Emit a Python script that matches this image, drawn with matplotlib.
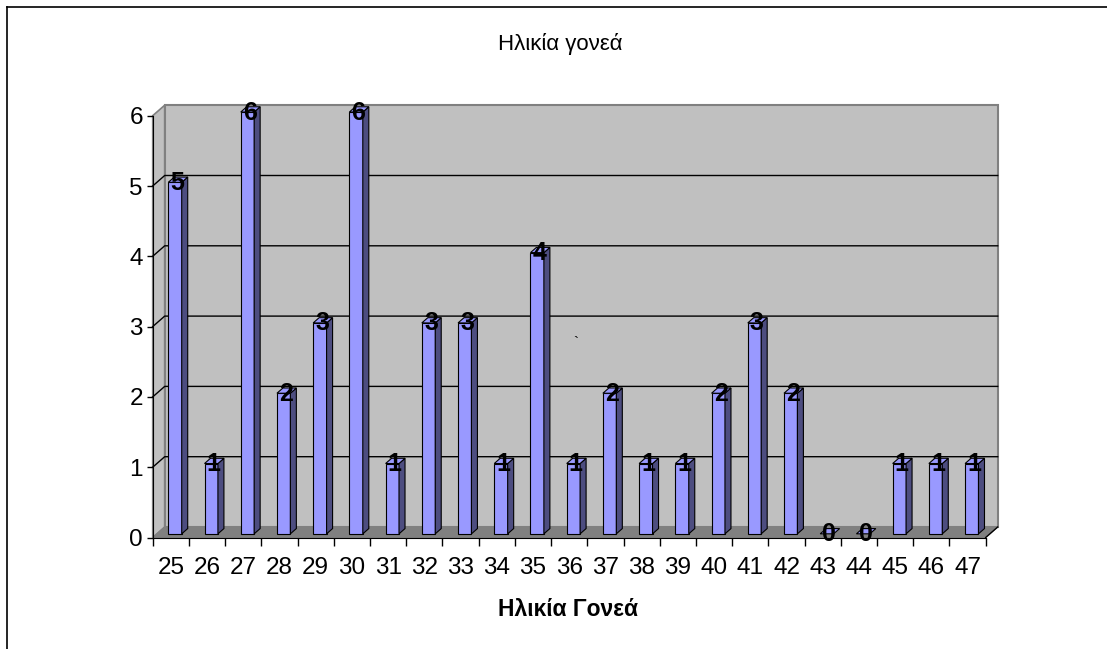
import numpy as np
import matplotlib
matplotlib.use("Agg")
from matplotlib import pyplot as plt
from matplotlib.patches import Polygon
from matplotlib.lines import Line2D

plt.rcParams['font.family'] = ['Liberation Sans', 'DejaVu Sans']

ages   = [25, 26, 27, 28, 29, 30, 31, 32, 33, 34, 35, 36, 37, 38, 39, 40, 41, 42, 43, 44, 45, 46, 47]
counts = [5, 1, 6, 2, 3, 6, 1, 3, 3, 1, 4, 1, 2, 1, 1, 2, 3, 2, 0, 0, 1, 1, 1]
title  = "Ηλικία γονεά"
xlabel = "Ηλικία Γονεά"
yticks = [0, 1, 2, 3, 4, 5, 6]

W, H = 1107, 649
fig = plt.figure(figsize=(W / 100, H / 100), dpi=100)

# axes placed in pixels: x 152.7..985.7, y(0)=537.5, y(6)=115.7 from top
x0, x1 = 152.7, 985.7
ytop, ybot = 115.7, 537.5
ax = fig.add_axes([x0 / W, (H - ybot) / H, (x1 - x0) / W, (ybot - ytop) / H])
n = len(ages)
ymax = yticks[-1]
ax.set_xlim(0, n)
ax.set_ylim(0, ymax)
ax.patch.set_visible(False)

# 3d depth offsets in data units
dx = 12.0 / ((x1 - x0) / n)
dy = 10.5 / ((ybot - ytop) / ymax)

wall_col = "#C0C0C0"
edge_col = "#808080"
# side wall
ax.add_patch(Polygon([(0, 0), (dx, dy), (dx, ymax + dy), (0, ymax)], closed=True,
                     facecolor=wall_col, edgecolor=edge_col, lw=1.2, clip_on=False, zorder=0))
# back wall
ax.add_patch(Polygon([(dx, dy), (n + dx, dy), (n + dx, ymax + dy), (dx, ymax + dy)], closed=True,
                     facecolor=wall_col, edgecolor=edge_col, lw=1.5, clip_on=False, zorder=0))
# floor
ax.add_patch(Polygon([(0, 0), (n, 0), (n + dx, dy), (dx, dy)], closed=True,
                     facecolor="#808080", edgecolor="#808080", lw=0.8, clip_on=False, zorder=1))
# floor front right edge
ax.plot([n, n + dx], [0, dy], color="black", lw=1, clip_on=False, zorder=1)

# gridlines
for v in yticks[1:-1]:
    ax.plot([0, dx, n + dx], [v, v + dy, v + dy], color="black", lw=1, clip_on=False, zorder=1)

# bars
f = 0.35
bw = 0.37
xs = np.arange(n) + 0.5
for xc, v in zip(xs, counts):
    bx0 = xc - bw / 2 + f * dx
    bx1 = xc + bw / 2 + f * dx
    by0 = f * dy
    ddx, ddy = 0.5 * dx, 0.5 * dy
    if v > 0:
        ax.add_patch(Polygon([(bx0, by0), (bx1, by0), (bx1, by0 + v), (bx0, by0 + v)], closed=True,
                             facecolor="#9999FF", edgecolor="black", lw=0.8, clip_on=False, zorder=3))
        ax.add_patch(Polygon([(bx1, by0), (bx1 + ddx, by0 + ddy), (bx1 + ddx, by0 + v + ddy), (bx1, by0 + v)],
                             closed=True, facecolor="#4D4D80", edgecolor="black", lw=0.8, clip_on=False, zorder=3))
    ax.add_patch(Polygon([(bx0, by0 + v), (bx1, by0 + v), (bx1 + ddx, by0 + v + ddy), (bx0 + ddx, by0 + v + ddy)],
                         closed=True, facecolor="#9999FF", edgecolor="black", lw=0.8, clip_on=False, zorder=3))
    ax.text(xc + (f + 0.2) * dx, v + (f - 0.05) * dy, str(v), ha="center", va="center",
            fontsize=18, fontweight="bold", zorder=5, clip_on=False)

# axes lines and ticks
for s in ["top", "right"]:
    ax.spines[s].set_visible(False)
ax.spines["left"].set_bounds(0, ymax)
ax.spines["left"].set_zorder(4)
ax.spines["bottom"].set_zorder(4)
ax.set_yticks(yticks)
ax.set_yticklabels([str(t) for t in yticks], fontsize=17.5)
ax.tick_params(axis="y", length=4, width=1, pad=3, direction="out")
ax.set_xticks(xs)
ax.set_xticklabels([str(a) for a in ages], fontsize=17.5)
ax.set_xticks(np.arange(n + 1), minor=True)
ax.tick_params(axis="x", which="major", length=0, pad=14)
ax.tick_params(axis="x", which="minor", length=6, width=1, direction="out")

fig.text(560 / W, 1 - 44 / H, title, ha="center", va="center", fontsize=16)
fig.text(568 / W, 1 - 609 / H, xlabel, ha="center", va="center", fontsize=16.5, fontweight="bold")
fig.text(576 / W, 1 - 343 / H, "`", ha="center", va="center", fontsize=11)

# outer chart border (cut off at right and bottom)
fig.add_artist(Line2D([7.3 / W, 1.0], [1 - 7.3 / H, 1 - 7.3 / H], color="black", lw=1.2))
fig.add_artist(Line2D([7.3 / W, 7.3 / W], [0.0, 1 - 7.3 / H], color="black", lw=1.2))

fig.savefig("out.png", dpi=100)
